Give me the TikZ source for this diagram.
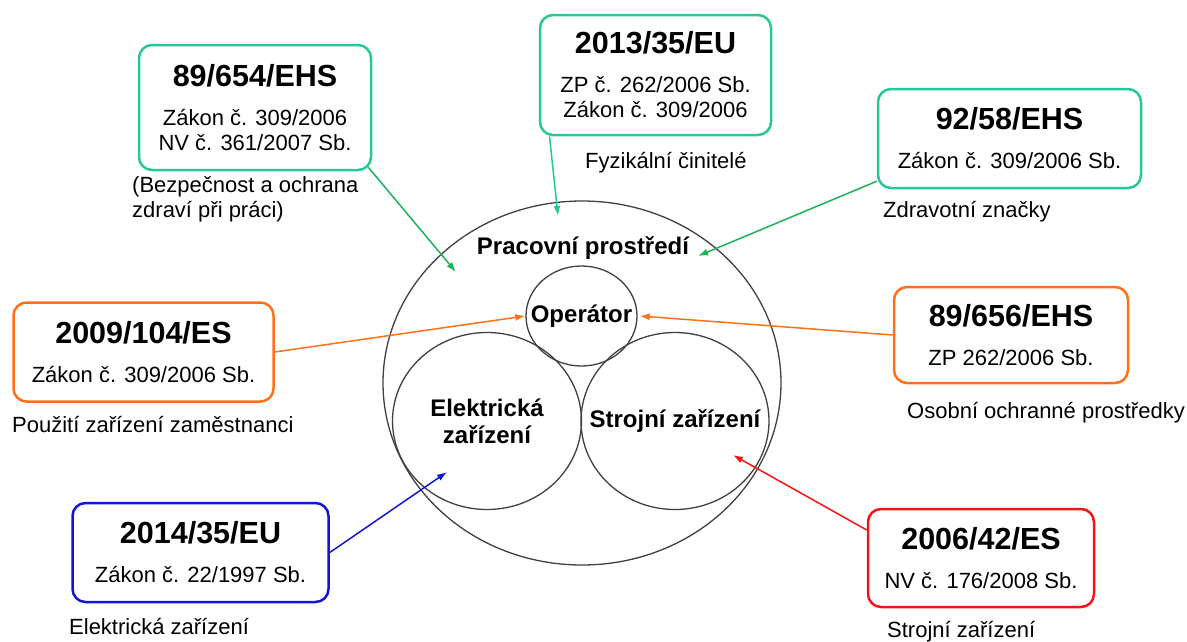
\documentclass[tikz,border=0pt]{standalone}
\usepackage{fontspec}
\setmainfont{Liberation Sans}
\usepackage{xcolor}
\definecolor{seagreen}{RGB}{38,200,155}
\definecolor{leafgreen}{RGB}{28,178,92}
\definecolor{pumpkin}{RGB}{255,112,24}
\definecolor{royal}{RGB}{20,20,215}
\definecolor{signal}{RGB}{245,20,20}
\usetikzlibrary{shapes.geometric, arrows.meta, positioning}
\newcommand{\dirtitle}[1]{{\bfseries\fontsize{30.5}{34}\selectfont #1}}

\begin{document}
\begin{tikzpicture}[x=1pt, y=-1pt,
                dirbox/.style={draw=#1, line width=2.5pt, rounded corners=13pt, align=center,
                    inner sep=0pt, font=\fontsize{22}{25}\selectfont},
                note/.style={anchor=west, align=left, inner sep=0pt, font=\fontsize{22}{25}\selectfont},
                ring/.style={ellipse, draw=black!75, line width=1.3pt, inner sep=0pt},
                ringname/.style={align=center, font=\bfseries\fontsize{24}{27}\selectfont},
                link/.style={draw=#1, line width=1.5pt, -{Latex[length=10pt,width=7pt]}}]
                \useasboundingbox (0,0) rectangle (1187,641);
                % circles
                \node [ring, minimum width=398pt, minimum height=364pt] (prostredi) at (582,383) {};
                \node [ringname] (prostrediname) at (583,248) {Pracovní prostředí};
                \node [ring, minimum width=111pt, minimum height=100pt,
                    label={[ringname]center:Operátor}] (operator) at (581.5,316) {};
                \node [ring, minimum width=189pt, minimum height=177pt,
                    label={[ringname]center:Elektrická\\zařízení}] (elektro) at (487,421) {};
                \node [ring, minimum width=188pt, minimum height=177pt,
                    label={[ringname]center:Strojní zařízení}] (stroje) at (675,421) {};
                % directives
                \node [dirbox=seagreen, minimum width=232pt, minimum height=125pt] (ehs654) at (255,107.5)
                    {\dirtitle{89/654/EHS}\\[14pt] Zákon č. 309/2006\\ NV č. 361/2007 Sb.};
                \node [dirbox=seagreen, minimum width=231pt, minimum height=120pt] (eu2013) at (655.5,75)
                    {\dirtitle{2013/35/EU}\\[14pt] ZP č. 262/2006 Sb.\\ Zákon č. 309/2006};
                \node [dirbox=seagreen, minimum width=263pt, minimum height=99pt] (ehs92) at (1009.5,138.5)
                    {\dirtitle{92/58/EHS}\\[14pt] Zákon č. 309/2006 Sb.};
                \node [dirbox=pumpkin, minimum width=260pt, minimum height=99pt] (es2009) at (143.5,352)
                    {\dirtitle{2009/104/ES}\\[14pt] Zákon č. 309/2006 Sb.};
                \node [dirbox=pumpkin, minimum width=234pt, minimum height=96pt] (ehs656) at (1011,335)
                    {\dirtitle{89/656/EHS}\\[14pt] ZP 262/2006 Sb.};
                \node [dirbox=royal, minimum width=256pt, minimum height=99pt] (eu2014) at (200.5,552.5)
                    {\dirtitle{2014/35/EU}\\[14pt] Zákon č. 22/1997 Sb.};
                \node [dirbox=signal, minimum width=226pt, minimum height=98pt] (es2006) at (981,558)
                    {\dirtitle{2006/42/ES}\\[14pt] NV č. 176/2008 Sb.};
                % notes
                \node [note] (bozp) at (132,199.5) {(Bezpečnost a ochrana\\zdraví při práci)};
                \node [note] (fyzika) at (585,163) {Fyzikální činitelé};
                \node [note] (znacky) at (883,212) {Zdravotní značky};
                \node [note] (pouziti) at (12,424) {Použití zařízení zaměstnanci};
                \node [note] (oop) at (907,413) {Osobní ochranné prostředky};
                \node [note] (elnote) at (69,626) {Elektrická zařízení};
                \node [note] (strnote) at (887,632) {Strojní zařízení};
                % arrows
                \coordinate (tip654) at (456,272);
                \coordinate (tip2013) at (558,216);
                \coordinate (tip92) at (698,256);
                \coordinate (tip2014) at (447,472);
                \coordinate (tip2006) at (733,455);
                \draw [link=leafgreen] ([xshift=-4pt,yshift=4pt]ehs654.south east) -- (tip654);
                \draw [link=seagreen] ([xshift=-106pt]eu2013.south) -- (tip2013);
                \draw [link=leafgreen] ([yshift=8pt]ehs92.south west) -- (tip92);
                \draw [link=pumpkin] (es2009.east) -- (operator.west);
                \draw [link=pumpkin] (ehs656.west) -- ([xshift=2pt]operator.east);
                \draw [link=royal] (eu2014.east) -- (tip2014);
                \draw [link=signal] ([yshift=28pt]es2006.west) -- (tip2006);
            \end{tikzpicture}
\end{document}
